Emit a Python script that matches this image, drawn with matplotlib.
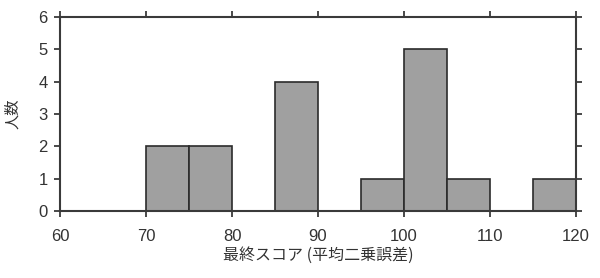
import numpy as np
import matplotlib.pyplot as plt

plt.rcParams['font.family'] = ['Liberation Sans', 'Noto Sans CJK JP']

# ヒストグラムのビン (幅 5) と人数
bin_left = [60, 65, 70, 75, 80, 85, 90, 95, 100, 105, 110, 115]
counts = [0, 0, 2, 2, 0, 4, 0, 1, 5, 1, 0, 1]
xticks = [60, 70, 80, 90, 100, 110, 120]
yticks = [0, 1, 2, 3, 4, 5, 6]

fig = plt.figure(figsize=(6, 2.78), dpi=100)
ax = fig.add_axes([0.1, 0.241, 0.86, 0.698])

ax.bar(bin_left, counts, width=5, align='edge', color='#a0a0a0',
       edgecolor='#2b2b2b', linewidth=1.2)

ax.set_xlim(60, 120)
ax.set_ylim(0, 6)
ax.set_xticks(xticks)
ax.set_yticks(yticks)

for s in ax.spines.values():
    s.set_color('#3a3a3a')
    s.set_linewidth(1.5)

ax.tick_params(axis='both', direction='out', length=4, width=1.3, color='#3a3a3a',
               labelsize=12, labelcolor='#333333', top=True, right=True)
ax.tick_params(axis='x', pad=9)
ax.tick_params(axis='y', pad=5)

ax.set_xlabel('最終スコア (平均二乗誤差)', fontsize=11.5, color='#333333',
              family=['Noto Sans CJK JP'], labelpad=2)
ax.set_ylabel('人数', fontsize=11, color='#333333', family=['Noto Sans CJK JP'],
              labelpad=12)

fig.savefig('out.png', dpi=100)
